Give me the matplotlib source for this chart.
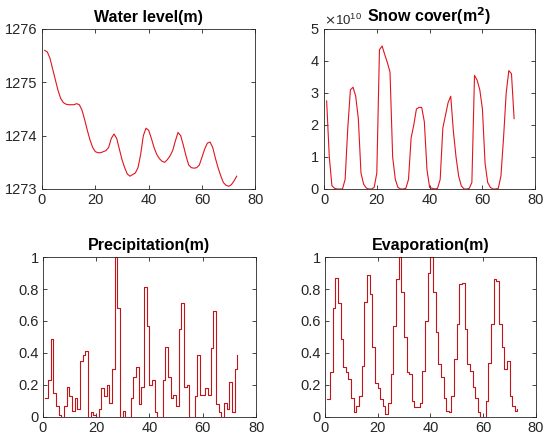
import numpy as np
import matplotlib
matplotlib.use("Agg")
import matplotlib.pyplot as plt
from matplotlib.ticker import FormatStrFormatter, ScalarFormatter

plt.rcParams['font.family'] = ['Liberation Sans', 'DejaVu Sans']

# monthly series
water_level = [1275.60, 1275.57, 1275.45, 1275.25, 1275.05, 1274.85, 1274.70, 1274.62, 1274.59, 1274.58,
               1274.58, 1274.58, 1274.60, 1274.58, 1274.48, 1274.30, 1274.10, 1273.92, 1273.78, 1273.70,
               1273.68, 1273.68, 1273.70, 1273.72, 1273.78, 1273.95, 1274.03, 1273.95, 1273.75, 1273.55,
               1273.40, 1273.28, 1273.24, 1273.27, 1273.30, 1273.40, 1273.65, 1274.00, 1274.14, 1274.10,
               1273.95, 1273.78, 1273.65, 1273.57, 1273.52, 1273.50, 1273.55, 1273.62, 1273.72, 1273.90,
               1274.06, 1274.00, 1273.82, 1273.62, 1273.45, 1273.40, 1273.39, 1273.40, 1273.45, 1273.60,
               1273.75, 1273.86, 1273.88, 1273.78, 1273.58, 1273.40, 1273.25, 1273.12, 1273.07, 1273.05,
               1273.08, 1273.15, 1273.24]

# snow cover in units of 1e10 m^2
snow_cover = [2.75, 1.0, 0.1, 0.02, 0.0, 0.0, 0.0, 0.3, 1.9, 3.1,
              3.18, 2.9, 2.2, 0.5, 0.15, 0.03, 0.0, 0.0, 0.05, 0.5,
              4.35, 4.47, 4.2, 3.95, 3.65, 1.0, 0.3, 0.05, 0.0, 0.0,
              0.02, 0.3, 1.6, 2.0, 2.5, 2.55, 2.55, 2.1, 0.6, 0.05,
              0.02, 0.0, 0.02, 0.3, 1.9, 2.3, 2.7, 2.9, 1.8, 1.0,
              0.4, 0.1, 0.0, 0.0, 0.02, 0.2, 3.55, 3.4, 3.1, 2.5,
              0.8, 0.2, 0.05, 0.0, 0.0, 0.02, 0.4, 1.6, 3.0, 3.7,
              3.6, 2.2]

precipitation = [0.12, 0.23, 0.49, 0.15, 0.07, 0.01, 0.0, 0.07, 0.19, 0.13,
                 0.04, 0.12, 0.05, 0.35, 0.39, 0.41, 0.0, 0.03, 0.01, 0.0,
                 0.05, 0.18, 0.13, 0.20, 0.09, 0.30, 1.0, 0.68, 0.0, 0.04,
                 0.0, 0.0, 0.12, 0.25, 0.31, 0.08, 0.19, 0.81, 0.57, 0.20,
                 0.23, 0.03, 0.0, 0.0, 0.23, 0.44, 0.25, 0.12, 0.14, 0.07,
                 0.55, 0.71, 0.19, 0.20, 0.0, 0.0, 0.13, 0.39, 0.14, 0.14,
                 0.18, 0.14, 0.43, 0.66, 0.08, 0.03, 0.0, 0.09, 0.05, 0.22,
                 0.03, 0.30, 0.39]

evaporation = [0.11, 0.28, 0.68, 0.87, 0.71, 0.49, 0.31, 0.28, 0.24, 0.12,
               0.03, 0.07, 0.13, 0.32, 0.72, 0.89, 0.77, 0.44, 0.21, 0.18,
               0.11, 0.07, 0.02, 0.09, 0.27, 0.57, 0.86, 1.0, 0.78, 0.50,
               0.28, 0.27, 0.10, 0.06, 0.06, 0.09, 0.29, 0.60, 0.90, 1.0,
               0.78, 0.53, 0.33, 0.25, 0.12, 0.04, 0.03, 0.13, 0.36, 0.58,
               0.83, 0.84, 0.55, 0.33, 0.29, 0.19, 0.12, 0.03, 0.0, 0.0,
               0.10, 0.34, 0.58, 0.86, 0.85, 0.58, 0.44, 0.30, 0.35, 0.13,
               0.07, 0.04, 0.05]

axis_gray = '#262626'


def style_axes(ax):
    ax.set_xlim(0, 80)
    ax.set_xticks([0, 20, 40, 60, 80])
    ax.tick_params(direction='in', length=3, width=0.6, top=True, right=True,
                   labelsize=10.5, colors=axis_gray, pad=3)
    for s in ax.spines.values():
        s.set_color(axis_gray)
        s.set_linewidth(0.6)


fig = plt.figure(figsize=(5.43, 4.40), dpi=100)
fig.patch.set_facecolor('white')

ax1 = fig.add_axes([0.0773, 0.5705, 0.393, 0.3636])
ax2 = fig.add_axes([0.5967, 0.5705, 0.389, 0.3636])
ax3 = fig.add_axes([0.0786, 0.0523, 0.393, 0.3636])
ax4 = fig.add_axes([0.5980, 0.0523, 0.389, 0.3636])

# water level
m = np.arange(1, len(water_level) + 1)
ax1.plot(m, water_level, color='#e0141e', lw=0.8)
style_axes(ax1)
ax1.set_ylim(1273, 1276)
ax1.set_yticks([1273, 1274, 1275, 1276])
ax1.yaxis.set_major_formatter(FormatStrFormatter('%d'))
ax1.set_title('Water level(m)', fontsize=11.5, fontweight='bold', pad=5)

# snow cover, plotted in m^2 so the 1e10 factor shows as offset text
m = np.arange(1, len(snow_cover) + 1)
ax2.plot(m, np.array(snow_cover) * 1e10, color='#e0141e', lw=0.8)
style_axes(ax2)
ax2.set_ylim(0, 5e10)
ax2.set_yticks(np.arange(0, 6) * 1e10)
fmt = ScalarFormatter(useMathText=True)
fmt.set_powerlimits((0, 0))
ax2.yaxis.set_major_formatter(fmt)
ax2.yaxis.get_offset_text().set_color(axis_gray)
ax2.yaxis.get_offset_text().set_fontsize(9.5)
ax2.set_title('Snow cover(m$^\\mathbf{2}$)', fontsize=11.5, fontweight='bold', pad=5)

# precipitation
m = np.arange(1, len(precipitation) + 1)
ax3.step(m, precipitation, where='post', color='#c0141a', lw=0.8)
style_axes(ax3)
ax3.set_ylim(0, 1)
ax3.set_yticks([0, 0.2, 0.4, 0.6, 0.8, 1])
ax3.yaxis.set_major_formatter(FormatStrFormatter('%g'))
ax3.set_title('Precipitation(m)', fontsize=11.5, fontweight='bold', pad=5)

# evaporation
m = np.arange(1, len(evaporation) + 1)
ax4.step(m, evaporation, where='post', color='#c0141a', lw=0.8)
style_axes(ax4)
ax4.set_ylim(0, 1)
ax4.set_yticks([0, 0.2, 0.4, 0.6, 0.8, 1])
ax4.yaxis.set_major_formatter(FormatStrFormatter('%g'))
ax4.set_title('Evaporation(m)', fontsize=11.5, fontweight='bold', pad=5)

fig.savefig('out.png', dpi=100, facecolor='white')
